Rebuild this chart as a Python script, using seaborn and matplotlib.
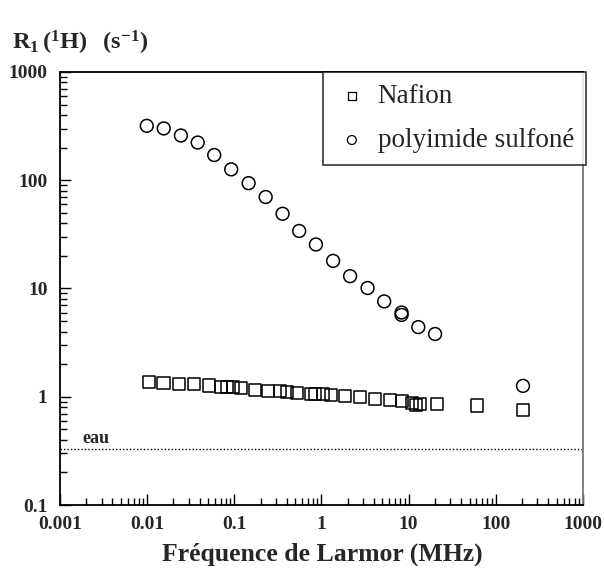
import numpy as np
import pandas as pd
import matplotlib
matplotlib.use('Agg')
import matplotlib.pyplot as plt
import seaborn as sns
from matplotlib.ticker import LogLocator, NullFormatter


# donnees
nafion_freq = [0.0104, 0.0154, 0.0232, 0.0342, 0.0514, 0.0698, 0.082, 0.0959, 0.118, 0.174,
               0.244, 0.334, 0.40, 0.525, 0.75, 0.85, 1.03, 1.30, 1.87, 2.80,
               4.13, 6.15, 8.3, 10.9, 12.0, 13.6, 21.0, 60.6, 205]
nafion_r1 = [1.36, 1.35, 1.31, 1.30, 1.27, 1.24, 1.23, 1.22, 1.20, 1.15,
             1.14, 1.12, 1.11, 1.09, 1.07, 1.06, 1.05, 1.03, 1.01, 0.99,
             0.96, 0.93, 0.91, 0.87, 0.84, 0.85, 0.86, 0.83, 0.76]
pi_freq = [0.0099, 0.0155, 0.0244, 0.038, 0.0588, 0.0921, 0.146, 0.229, 0.358, 0.555,
           0.863, 1.36, 2.13, 3.38, 5.24, 8.3, 8.3, 12.9, 20.1, 205]
pi_r1 = [318, 301, 259, 223, 171, 126, 94, 70, 49, 34,
         25.5, 18, 13, 10.1, 7.6, 6.0, 5.7, 4.4, 3.8, 1.26]
eau_r1 = 0.33

xticks = [0.001, 0.01, 0.1, 1, 10, 100, 1000]
xtick_labels = ['0.001', '0.01', '0.1', '1', '10', '100', '1000']
yticks = [0.1, 1, 10, 100, 1000]
ytick_labels = ['0.1', '1', '10', '100', '1000']

sns.set_style('ticks')
plt.rcParams['font.family'] = ['Liberation Serif', 'DejaVu Serif']
plt.rcParams['mathtext.fontset'] = 'custom'
plt.rcParams['mathtext.rm'] = 'Liberation Serif'
plt.rcParams['mathtext.bf'] = 'Liberation Serif:bold'

fig = plt.figure(figsize=(6.04, 5.81), dpi=100)
ax = fig.add_axes([0.0993, 0.1308, 0.8659, 0.7453])

sns.scatterplot(x=nafion_freq, y=nafion_r1, marker='s', s=75, facecolor='none',
                edgecolor='black', linewidth=1.1, label='Nafion', ax=ax)
sns.scatterplot(x=pi_freq, y=pi_r1, marker='o', s=85, facecolor='none',
                edgecolor='black', linewidth=1.1, label='polyimide sulfoné', ax=ax)

ax.axhline(eau_r1, ls=(0, (1, 1.5)), color='black', lw=1)
ax.text(0.0018, eau_r1 * 1.05, 'eau', fontsize=13, fontweight='bold', va='bottom')

ax.set_xscale('log')
ax.set_yscale('log')
ax.set_xlim(0.001, 1000)
ax.set_ylim(0.1, 1000)
ax.set_xticks(xticks, labels=xtick_labels, fontweight='bold', fontsize=14)
ax.set_yticks(yticks, labels=ytick_labels, fontweight='bold', fontsize=14)
ax.xaxis.set_minor_locator(LogLocator(base=10, subs=np.arange(2, 10), numticks=20))
ax.yaxis.set_minor_locator(LogLocator(base=10, subs=np.arange(2, 10), numticks=20))
ax.xaxis.set_minor_formatter(NullFormatter())
ax.yaxis.set_minor_formatter(NullFormatter())
ax.tick_params(which='major', direction='in', length=8, width=1, color='black', pad=8)
ax.tick_params(axis='y', which='major', pad=9)
ax.tick_params(which='minor', direction='in', length=5, width=1, color='black')

for side in ['left', 'bottom', 'top']:
    ax.spines[side].set_color('black')
    ax.spines[side].set_linewidth(1.3)
ax.spines['right'].set_color('#777777')
ax.spines['right'].set_linewidth(1.3)

ax.set_xlabel('')
ax.set_ylabel('')
fig.text(0.533, 0.035, 'Fréquence de Larmor (MHz)', fontsize=18.5, fontweight='bold', ha='center')
fig.text(0.02, 0.915, r'$\mathbf{R_1\,(^1H)\ \ (s^{-1})}$', fontsize=17.5)

leg = ax.legend(loc='upper right', bbox_to_anchor=(1.006, 1.0), borderaxespad=0,
                frameon=True, fancybox=False, edgecolor='black', fontsize=19.5,
                markerscale=0.7, handletextpad=0.35, labelspacing=0.7,
                borderpad=0.45, handlelength=1.2)
leg.get_frame().set_linewidth(1.2)
for h in leg.legend_handles:
    h.set_linewidth(0.9)

fig.savefig('out.png', dpi=100)
